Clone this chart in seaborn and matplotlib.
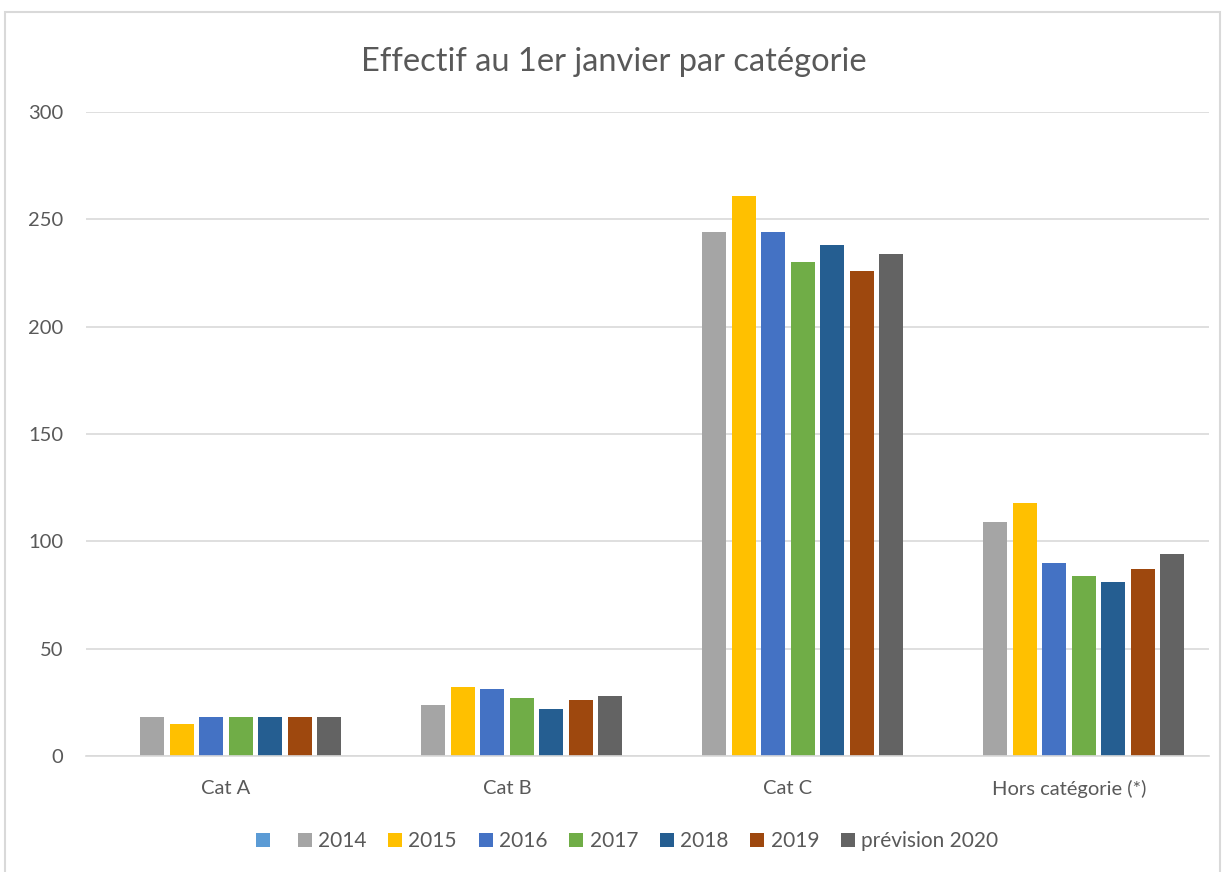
import pandas as pd
import matplotlib.pyplot as plt
import seaborn as sns
from matplotlib.patches import Rectangle, Patch

# Data
categories = ["Cat A", "Cat B", "Cat C", "Hors catégorie (*)"]
series = ["", "2014", "2015", "2016", "2017", "2018", "2019", "prévision 2020"]
blank = [0, 0, 0, 0]
v2014 = [18, 24, 244, 109]
v2015 = [15, 32, 261, 118]
v2016 = [18, 31, 244, 90]
v2017 = [18, 27, 230, 84]
v2018 = [18, 22, 238, 81]
v2019 = [18, 26, 226, 87]
v2020 = [18, 28, 234, 94]
colors = ["#5B9BD5", "#A5A5A5", "#FFC000", "#4472C4", "#70AD47",
          "#255E91", "#9E480E", "#636363"]

values = [blank, v2014, v2015, v2016, v2017, v2018, v2019, v2020]
rows = []
for name, vals in zip(series, values):
    for cat, v in zip(categories, vals):
        rows.append({"cat": cat, "serie": name, "val": v})
df = pd.DataFrame(rows)

sns.set_theme(style="white")
plt.rcParams["font.family"] = ["Lato", "DejaVu Sans"]
text_col = "#595959"
grid_col = "#D9D9D9"

fig = plt.figure(figsize=(12.27, 8.72), dpi=100)
ax = fig.add_axes([0.0697, 0.133, 0.916, 0.7385])

sns.barplot(data=df, x="cat", y="val", hue="serie", order=categories,
            hue_order=series, palette=colors, width=0.84, gap=0.18,
            linewidth=0, saturation=1, legend=False, ax=ax)

ax.set_ylim(0, 300)
ax.set_xlim(-0.5, 3.5)
ax.set_yticks(range(0, 301, 50))
ax.yaxis.grid(True, color=grid_col, linewidth=1.2)
ax.set_axisbelow(True)
for s in ["top", "right", "left"]:
    ax.spines[s].set_visible(False)
ax.spines["bottom"].set_color(grid_col)
ax.spines["bottom"].set_linewidth(1.2)
ax.tick_params(axis="both", length=0, labelsize=14.5, labelcolor=text_col)
ax.tick_params(axis="x", pad=17)
ax.tick_params(axis="y", pad=16)
ax.set_xlabel("")
ax.set_ylabel("")

fig.text(0.5, 0.929, "Effectif au 1er janvier par catégorie", ha="center",
         va="center", fontsize=23.5, color=text_col)

# legend, including the unnamed first series
handles = [Patch(facecolor=c, edgecolor="none") for c in colors]
leg = fig.legend(handles, series, loc="center", bbox_to_anchor=(0.511, 0.035),
                 ncol=8, frameon=False, fontsize=15, handlelength=0.67,
                 handleheight=0.67, columnspacing=1.05, handletextpad=0.3)
for t in leg.get_texts():
    t.set_color(text_col)

# outer chart border
fig.patches.append(Rectangle((0.004, -0.01), 0.99, 0.996, transform=fig.transFigure,
                             fill=False, edgecolor=grid_col, linewidth=1.5))

fig.savefig("out.png", dpi=100, facecolor="white")
